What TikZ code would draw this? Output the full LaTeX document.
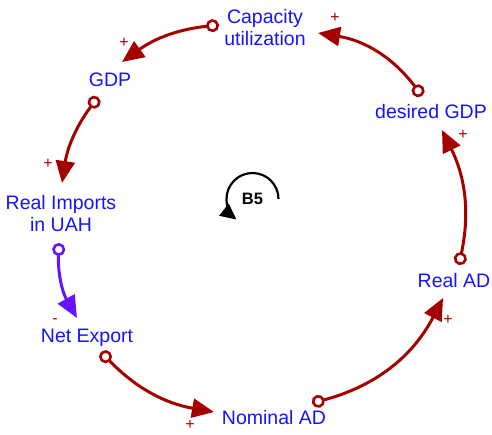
\documentclass[tikz,border=0pt]{standalone}
\usepackage{fontspec}
\setmainfont{Liberation Sans}
\usetikzlibrary{arrows.meta,calc}
\definecolor{linkred}{RGB}{165,0,0}
\definecolor{varblue}{RGB}{20,20,255}
\definecolor{linkviolet}{RGB}{100,20,255}
\tikzset{
  var/.style={text=varblue, font=\fontsize{19.5}{22}\selectfont, align=center, inner sep=0pt},
  link/.style={draw=linkred, line width=3pt,
    {Circle[open, fill=white, length=13pt, width=13pt, line width=2.6pt]}-{Triangle[length=22pt, width=19pt]}},
  neglink/.style={link, draw=linkviolet},
  pol/.style={text=linkred, font=\fontsize{16}{16}\selectfont, inner sep=0pt},
}
\begin{document}
\begin{tikzpicture}[x=1pt, y=1pt]
\useasboundingbox (0,0) rectangle (492,434);

% variables
\node[var] (cap) at (265,406) {Capacity\\utilization};
\node[var] (gdp) at (110,354) {GDP};
\node[var] (imp) at (61,220) {Real Imports\\in UAH};
\node[var] (nex) at (87,96) {Net Export};
\node[var] (nom) at (274,16) {Nominal AD};
\node[var] (rad) at (454,153) {Real AD};
\node[var] (des) at (431,322) {desired GDP};

% causal links
\draw[link] ($(des)+(-9,16)$) to[bend right=22] ($(cap)+(53,-5)$);
\draw[link] ($(cap)+(-46,3)$) to[bend right=15] ($(gdp)+(12,18)$);
\draw[link] ($(gdp)+(-12,-17)$) to[bend right=14] ($(imp)+(1,31)$);
\draw[neglink] ($(imp)+(-2,-29)$) to[bend right=16] ($(nex)+(-10,20)$);
\draw[link] ($(nex)+(14,-14)$) to[bend right=18] ($(nom)+(-60,6)$);
\draw[link] ($(nom)+(38,15)$) to[bend right=24] ($(rad)+(-11,-17)$);
\draw[link] ($(rad)+(5,16)$) to[bend right=19] ($(des)+(11,-18)$);

% polarities
\node[pol] (p1) at (335,416) {+};
\node[pol] (p2) at (124,391) {+};
\node[pol] (p3) at (48,270) {+};
\node[pol] (p4) at (55,113) {-};
\node[pol] (p5) at (190,9) {+};
\node[pol] (p6) at (448,114) {+};
\node[pol] (p7) at (463,299) {+};

% loop marker
\node[font=\bfseries\fontsize{16.5}{16.5}\selectfont, inner sep=0pt] (loop) at (252.5,235) {B5};
\draw[line width=2.2pt, -{Triangle[length=16pt, width=15pt]}]
  ($(loop)+(26,0)$) arc[start angle=0, end angle=232, radius=26];
\end{tikzpicture}
\end{document}
